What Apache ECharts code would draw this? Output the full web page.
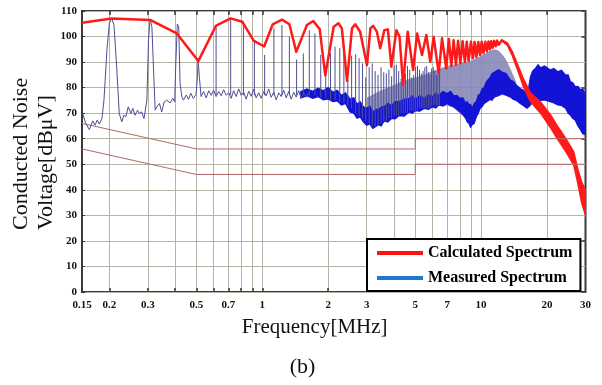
<!DOCTYPE html>
<html>
<head>
<meta charset="utf-8">
<script src="https://cdn.jsdelivr.net/npm/echarts/dist/echarts.min.js"></script>
<style>html,body{margin:0;padding:0;background:#fff}#c{width:602px;height:385px}</style>
</head>
<body>
<div id="c"></div>
<script>
// ---- data (frequency in MHz, level in dBuV) ----
const gridFreqs = [0.2,0.3,0.4,0.5,0.6,0.7,0.8,0.9,1,2,3,4,5,6,7,8,9,10,20];
const tickFreqs = [0.15,0.2,0.3,0.5,0.7,1,2,3,5,7,10,20,30];
const tickLabels = ['0.15','0.2','0.3','0.5','0.7','1','2','3','5','7','10','20','30'];

const qpF = [0.15,0.5,5,5,30];
const qpDb = [66,56,56,60,60];
const avF = [0.15,0.5,5,5,30];
const avDb = [56,46,46,50,50];

const calcF = [0.15,0.205,0.307,0.407,0.51,0.615,0.717,0.81,0.913,1.02,1.116,1.23,1.33,1.43,1.60,1.71,1.83,1.94,2.12,2.23,2.31,2.44,2.57,2.66,2.80,3.01,3.12,3.21,3.34,3.46,3.61,3.75,3.89,4.10,4.24,4.40,4.62,4.89,5.10,5.37,5.62,5.86,6.07,6.40,6.63,6.93,7.12,7.31,7.49,7.67,7.85,8.04,8.23,8.43,8.60,8.77,8.99,9.18,9.34,9.52,9.71,9.88,10.06,10.25,10.45,10.63,10.80,10.97,11.12,11.29,11.47,11.66,11.84,12.03,12.47];
const calcDb = [105.4,107.1,106.5,101.2,90.4,104.3,107.1,105.8,98.4,96.1,104.8,106.6,104.8,94.0,104.5,106.1,102.9,84.8,103.8,105.2,103.2,82.6,103.2,104.8,101.9,88.8,103.2,104.2,101.9,95.4,102.5,102.8,88.2,102.5,99.9,81.0,101.9,86.9,101.2,92.8,100.6,90.1,99.9,85.6,99.3,87.5,99.0,88.5,98.6,89.0,98.4,89.5,98.2,90.0,98.0,90.5,98.0,91.5,97.9,92.0,97.9,92.8,98.0,93.5,98.0,94.2,98.1,95.0,98.2,95.6,98.3,96.2,98.4,96.8,98.7];

const calcTailF = [12.47,13.2,13.9,14.6,15.1,15.6,16.8,18.7,20.7,22.2,24.4,26.5,27.6,28.8,30];
const calcTailHi = [98.7,97.5,94,89.5,86.5,83.5,78,74.4,69.5,65.3,60,54.9,48.5,43,40];
const calcTailLo = [98.2,96.5,92.5,87.5,84,80.5,74.5,70,64.5,60.2,55,49.8,43,35,30];

const measLowF = [0.151,0.156,0.162,0.168,0.172,0.176,0.180,0.185,0.189,0.195,0.200,0.205,0.210,0.216,0.222,0.228,0.233,0.238,0.244,0.251,0.256,0.262,0.269,0.274,0.281,0.288,0.293,0.297,0.302,0.307,0.313,0.318,0.324,0.330,0.339,0.347,0.356,0.366,0.379,0.390,0.398,0.402,0.409,0.415,0.421,0.429,0.436,0.449,0.460,0.471,0.484,0.498,0.506,0.509,0.516,0.525,0.539,0.554,0.569,0.584,0.599,0.615,0.632,0.649,0.666,0.684,0.702,0.721,0.740,0.760,0.780,0.801,0.822,0.844,0.867,0.890,0.913,0.938,0.963,0.989,1.015,1.042,1.070,1.098,1.128,1.158,1.189,1.220,1.253,1.286,1.321,1.356,1.392,1.429,1.467,1.506,1.547,1.588,1.631];
const measLowDb = [69.9,66.0,63.6,67.0,65.3,67.3,65.7,67.8,75.1,94.7,105.2,107.1,104.5,88.2,69.9,66.6,69.2,68.6,72.5,69.9,71.9,69.2,71.2,69.9,70.5,67.9,67.9,75.1,98.6,106.7,103.8,88.2,71.2,72.5,73.8,70.5,74.4,75.1,74.0,75.8,74.4,88.2,104.9,103.8,81.7,76.4,75.1,77.1,75.4,77.8,75.8,77.3,85.0,90.8,84.0,76.5,78.5,76.0,78.8,77.0,79.0,76.5,78.5,76.8,79.2,77.0,78.0,75.8,78.8,76.5,79.5,77.0,78.2,75.5,78.6,76.6,79.3,76.0,78.0,75.8,78.5,76.8,79.5,76.2,78.2,75.2,78.0,76.5,79.0,76.0,78.5,75.5,78.2,76.3,78.8,75.8,78.0,76.2,78.4];

const spikeF = [0.615,0.717,0.82,0.92,1.025,1.13,1.23,1.33,1.435,1.54,1.64,1.74,1.85,1.95,2.05,2.15,2.26,2.36,2.46,2.56,2.67,2.77,2.87,2.97,3.08,3.18,3.28,3.38,3.49,3.59,3.69,3.79,3.90,4.00,4.10,4.20,4.31,4.41,4.51,4.61,4.72,4.82,4.92,5.02,5.12,5.23,5.33,5.43,5.53,5.64,5.74,5.84,5.94,6.05,6.15,6.25,6.35,6.46];
const spikePk = [104.5,107.0,105.8,98.6,92.8,103.2,104.5,99.9,91.0,93.4,102.5,101.2,92.8,84.9,93.5,96.0,95.5,94.5,83.0,92.5,93.0,91.5,89.5,84.0,88.0,89.5,86.5,85.0,88.0,86.0,85.5,87.0,84.5,88.5,89.0,86.5,83.5,82.0,85.5,88.5,87.0,84.0,85.0,88.0,88.5,87.0,85.5,86.5,88.0,88.5,86.0,85.0,87.5,88.0,86.5,85.0,85.0,87.5];
const spikeBase = [77,77,77,77,77,77,77,77,77,77,77,77,76,76,75,75,74,74,73,72,70,69,68,67,66,65,65,65,66,67,67,68,68,69,69,69,70,70,70,70,71,71,71,71,71,72,72,72,72,72,72,72,73,73,73,73,73,73];

const fillF = [3.0,3.5,4.0,4.5,5.0,5.5,6.0,6.5,7.0,7.5,8.0,8.5,9.0,9.5,10.0,10.5,11.0,11.5,12.0,12.5,13.0,13.6,14.5];
const fillLo = [67,66,68,70,71,72,72,73,73,72,70,68,66,68,72,74,75,76,77,77,77,76,75];
const fillHi = [76,79,81,83,84,85,86.5,87.5,88.5,89,89.5,90,90.5,91.5,92.5,93.5,94.5,95,94.5,93,91,87.5,82];

const bandF = [1.50,1.60,1.70,1.80,1.90,2.00,2.10,2.20,2.30,2.40,2.52,2.62,2.71,2.80,2.90,3.00,3.10,3.20,3.30,3.40,3.50,3.60,3.75,3.90,4.05,4.20,4.45,4.70,4.85,5.00,5.25,5.50,5.75,6.00,6.20,6.40,6.70,7.00,7.25,7.50,7.75,8.00,8.25,8.50,8.65,8.80,8.95,9.10,9.30,9.50,9.70,9.90,10.1,10.3,10.6,11.0,11.2,11.5,12.0,12.5,13.0,13.6,14.0,14.5,15.1,15.6,16.2,16.5,16.8,17.2,17.7,18.2,18.7,19.5,20.7,21.5,22.4,23.3,24.3,25.0,25.6,26.2,26.9,27.7,28.5,29.1,29.6,30];
const bandLo = [76.0,76.8,75.8,76.5,75.2,75.6,74.5,74.8,73.2,73.8,70.5,70.0,68.0,68.5,66.5,65.3,65.8,64.0,64.8,65.5,65.0,67.0,66.5,68.0,67.8,69.0,68.8,70.5,70.0,71.0,70.8,71.9,71.5,72.5,72.0,73.2,72.8,73.8,73.0,72.5,71.5,70.5,69.5,68.0,66.5,66.0,64.5,65.5,66.0,68.5,70.0,72.0,72.5,73.8,74.5,75.5,75.0,76.4,76.8,77.7,77.0,76.4,75.5,75.0,73.8,73.0,71.9,72.5,73.2,74.5,75.8,75.5,75.0,75.2,74.5,74.0,73.2,73.0,71.9,70.0,69.2,68.0,67.3,65.0,63.4,62.0,61.7,63.0];
const bandHi = [78.5,79.5,78.6,79.8,78.8,80.0,78.2,79.0,77.0,78.0,75.5,76.0,73.5,74.5,72.5,71.9,72.8,70.5,71.5,71.5,72.5,72.5,73.8,73.0,74.5,74.5,75.5,75.8,76.8,75.5,76.8,75.8,77.2,76.5,77.8,77.0,78.5,77.7,78.6,76.8,77.0,75.8,76.0,74.0,74.5,73.2,73.5,71.9,73.8,74.5,77.0,77.5,79.5,80.0,82.5,84.0,85.5,86.0,87.0,86.0,85.5,83.0,82.5,81.0,79.7,79.0,77.7,80.0,84.2,86.5,87.5,89.0,87.8,88.5,86.9,87.5,86.2,86.8,84.9,85.0,82.3,82.0,80.4,80.5,79.1,79.5,78.4,77.0];

// ---- helpers ----
const lg = Math.log10;
const pts = (fs, vs) => fs.map((f, i) => [lg(f), vs[i]]);
const spikeData = [];
spikeF.forEach((f, i) => {
  spikeData.push([lg(f), spikeBase[i]], [lg(f), spikePk[i]], [lg(f), null]);
});

// band drawn as a polygon between lower and upper edges, positioned by the chart's axes
function bandSeries(name, fs, lo, hi, color, opacity, lw) {
  return {
    name, type: 'custom', silent: true, clip: true,
    data: [[lg(fs[0]), lo[0]]],
    itemStyle: {color},
    renderItem: (params, api) => {
      const up = fs.map((f, i) => api.coord([lg(f), hi[i]]));
      const dn = fs.map((f, i) => api.coord([lg(f), lo[i]])).reverse();
      return {type: 'polygon', shape: {points: up.concat(dn)},
              style: {fill: color, stroke: lw ? color : null, lineWidth: lw || 0, opacity}};
    }
  };
}

const SERIF = 'Liberation Serif';
const RED = '#ff1a1a', BLUE = '#1313d6', SLATE = '#4e4e92', LIMIT = '#b06a6a';

const chart = echarts.init(document.getElementById('c'), null, {renderer: 'canvas'});
const xCommon = {type: 'value', min: lg(0.15), max: lg(30), axisLine: {show: false, onZero: false}};
chart.setOption({
  animation: false,
  backgroundColor: '#fff',
  grid: {left: 82, right: 16.5, top: 11, bottom: 93, show: true, borderColor: '#3a3a3a', borderWidth: 2, backgroundColor: '#fff'},
  xAxis: [
    Object.assign({}, xCommon, {
      position: 'bottom',
      axisTick: {show: true, inside: true, length: 4, customValues: gridFreqs.map(lg), lineStyle: {color: '#333', width: 1.5}},
      splitLine: {show: true, lineStyle: {color: '#b5b5a6', width: 1}},
      axisLabel: {
        customValues: tickFreqs.map(lg), margin: 8,
        fontFamily: SERIF, fontWeight: 'bold', fontSize: 11, color: '#111',
        formatter: v => { let best = 0; tickFreqs.forEach((f, i) => { if (Math.abs(lg(f) - v) < Math.abs(lg(tickFreqs[best]) - v)) best = i; }); return tickLabels[best]; }
      }
    }),
    Object.assign({}, xCommon, {
      position: 'top',
      axisTick: {show: true, inside: true, length: 4, customValues: gridFreqs.map(lg), lineStyle: {color: '#333', width: 1.5}},
      splitLine: {show: false},
      axisLabel: {show: false}
    })
  ],
  yAxis: [
    {type: 'value', min: 0, max: 110, interval: 10, position: 'left',
     axisLine: {show: false, onZero: false},
     axisTick: {show: true, inside: true, length: 3, lineStyle: {color: '#333'}},
     splitLine: {show: true, lineStyle: {color: '#b5b5a6', width: 1}},
     axisLabel: {margin: 5, fontFamily: SERIF, fontWeight: 'bold', fontSize: 11, color: '#111'}},
    {type: 'value', min: 0, max: 110, interval: 20, position: 'right',
     axisLine: {show: false, onZero: false},
     axisTick: {show: true, inside: true, length: 4, lineStyle: {color: '#333', width: 1.5}},
     splitLine: {show: false}, axisLabel: {show: false}}
  ],
  legend: {
    left: 367, top: 239, orient: 'vertical',
    padding: [5, 8, 4, 10], itemGap: 7, itemWidth: 46, itemHeight: 4, itemTextGap: 7,
    backgroundColor: '#fff', borderColor: '#000', borderWidth: 2, borderRadius: 0,
    selectedMode: false,
    textStyle: {fontFamily: SERIF, fontWeight: 'bold', fontSize: 16, lineHeight: 18, color: '#000'},
    data: [
      {name: 'Calculated Spectrum', icon: 'rect', itemStyle: {color: '#ff1010'}},
      {name: 'Measured Spectrum', icon: 'rect', itemStyle: {color: '#1f78d0'}}
    ]
  },
  series: [
    {name: 'QP limit', type: 'line', data: pts(qpF, qpDb), symbol: 'none', silent: true, lineStyle: {color: LIMIT, width: 1}},
    {name: 'AV limit', type: 'line', data: pts(avF, avDb), symbol: 'none', silent: true, lineStyle: {color: LIMIT, width: 1}},
    bandSeries('spike fill', fillF, fillLo, fillHi, '#8787b8', 0.9, 0),
    {name: 'spikes', type: 'line', data: spikeData, symbol: 'none', silent: true, connectNulls: false, lineStyle: {color: SLATE, width: 1}},
    {name: 'measured low', type: 'line', data: pts(measLowF, measLowDb), symbol: 'none', silent: true, lineStyle: {color: SLATE, width: 1}},
    bandSeries('Measured Spectrum', bandF, bandLo, bandHi, BLUE, 1, 1.2),
    {name: 'Calculated Spectrum', type: 'line', data: pts(calcF, calcDb), symbol: 'none', silent: true, itemStyle: {color: RED}, lineStyle: {color: RED, width: 2.5, join: 'round'}},
    bandSeries('calc tail', calcTailF, calcTailLo, calcTailHi, RED, 1, 1.5)
  ],
  graphic: [
    {type: 'text', x: 21, y: 230, rotation: Math.PI / 2, style: {text: 'Conducted Noise', font: '22px "Liberation Serif"', fill: '#111', textAlign: 'left', textVerticalAlign: 'middle', align: 'left', verticalAlign: 'middle'}},
    {type: 'text', x: 46, y: 230, rotation: Math.PI / 2, style: {text: 'Voltage[dBμV]', font: '22px "Liberation Serif"', fill: '#111', textAlign: 'left', textVerticalAlign: 'middle', align: 'left', verticalAlign: 'middle'}},
    {type: 'text', x: 314.7, y: 327, style: {text: 'Frequency[MHz]', font: '21px "Liberation Serif"', fill: '#111', textAlign: 'center', textVerticalAlign: 'middle', align: 'center', verticalAlign: 'middle'}},
    {type: 'text', x: 302.5, y: 367, style: {text: '(b)', font: '22px "Liberation Serif"', fill: '#111', textAlign: 'center', textVerticalAlign: 'middle', align: 'center', verticalAlign: 'middle'}}
  ]
});
</script>
</body>
</html>
